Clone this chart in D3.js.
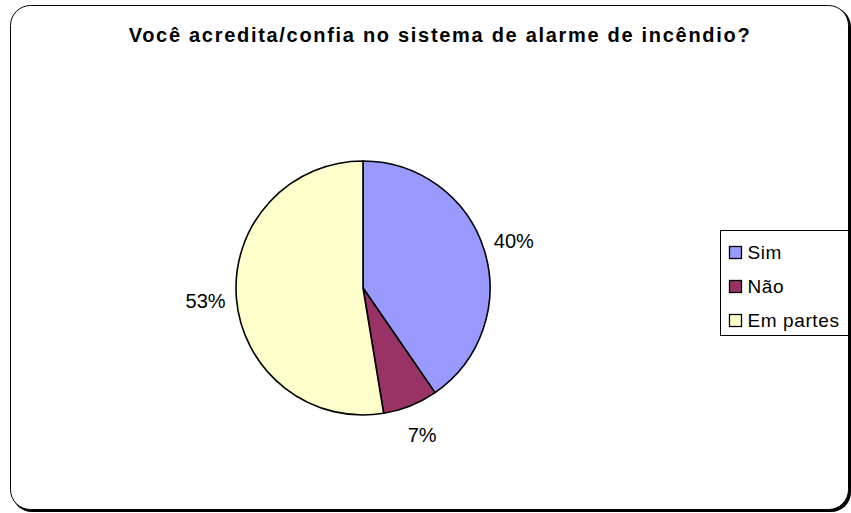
<!DOCTYPE html>
<html>
<head>
<meta charset="utf-8">
<title>Você acredita/confia no sistema de alarme de incêndio?</title>
<script src="https://d3js.org/d3.v7.min.js"></script>
<style>
  body { margin: 0; background: #fff; }
  svg { display: block; font-family: "Liberation Sans", Arial, sans-serif; }
</style>
</head>
<body>
<svg></svg>
<script>
// dados
const titulo = 'Você acredita/confia no sistema de alarme de incêndio?';
const categorias = ['Sim', 'Não', 'Em partes'];
const valores = [40.4, 7.0, 52.6];
const rotulos = ['40%', '7%', '53%'];
const cores = ['#9999FF', '#993366', '#FFFFCC'];

const width = 851, height = 513;
const svg = d3.select('svg').attr('width', width).attr('height', height);

// moldura com sombra
svg.append('rect').attr('x', 12).attr('y', 7).attr('width', 839).attr('height', 505)
  .attr('rx', 20).attr('fill', '#000');
svg.append('rect').attr('x', 10.5).attr('y', 5.5).attr('width', 838).attr('height', 504)
  .attr('rx', 20).attr('fill', '#fff').attr('stroke', '#000').attr('stroke-width', 1);

// título
svg.append('text').attr('x', 440).attr('y', 42).attr('text-anchor', 'middle')
  .attr('font-size', 20).attr('font-weight', 'bold').attr('letter-spacing', 1.7)
  .text(titulo);

// pizza
const cx = 363, cy = 288, r = 127;
const pie = d3.pie().sort(null).value(d => d)(valores);
const arc = d3.arc().innerRadius(0).outerRadius(r);
const labelArc = d3.arc().innerRadius(158).outerRadius(158);

const g = svg.append('g').attr('transform', `translate(${cx},${cy})`);
g.selectAll('path').data(pie).enter().append('path')
  .attr('d', arc)
  .attr('fill', (d, i) => cores[i])
  .attr('stroke', '#000').attr('stroke-width', 1.6).attr('stroke-linejoin', 'round');

g.selectAll('text').data(pie).enter().append('text')
  .attr('transform', d => `translate(${labelArc.centroid(d)})`)
  .attr('text-anchor', 'middle').attr('dy', '0.36em')
  .attr('font-size', 20)
  .text((d, i) => rotulos[i]);

// legenda
const legend = svg.append('g').attr('transform', 'translate(720.5,230.5)');
legend.append('rect').attr('width', 128).attr('height', 105)
  .attr('fill', '#fff').attr('stroke', '#000').attr('stroke-width', 1);
const item = legend.selectAll('g.item').data(categorias).enter().append('g')
  .attr('class', 'item')
  .attr('transform', (d, i) => `translate(9,${22 + i * 34})`);
item.append('rect').attr('x', 0).attr('y', -6).attr('width', 12).attr('height', 12)
  .attr('fill', (d, i) => cores[i]).attr('stroke', '#000').attr('stroke-width', 1.3);
item.append('text').attr('x', 18).attr('dy', '0.36em').attr('font-size', 19)
  .attr('letter-spacing', 0.6)
  .text(d => d);
</script>
</body>
</html>
